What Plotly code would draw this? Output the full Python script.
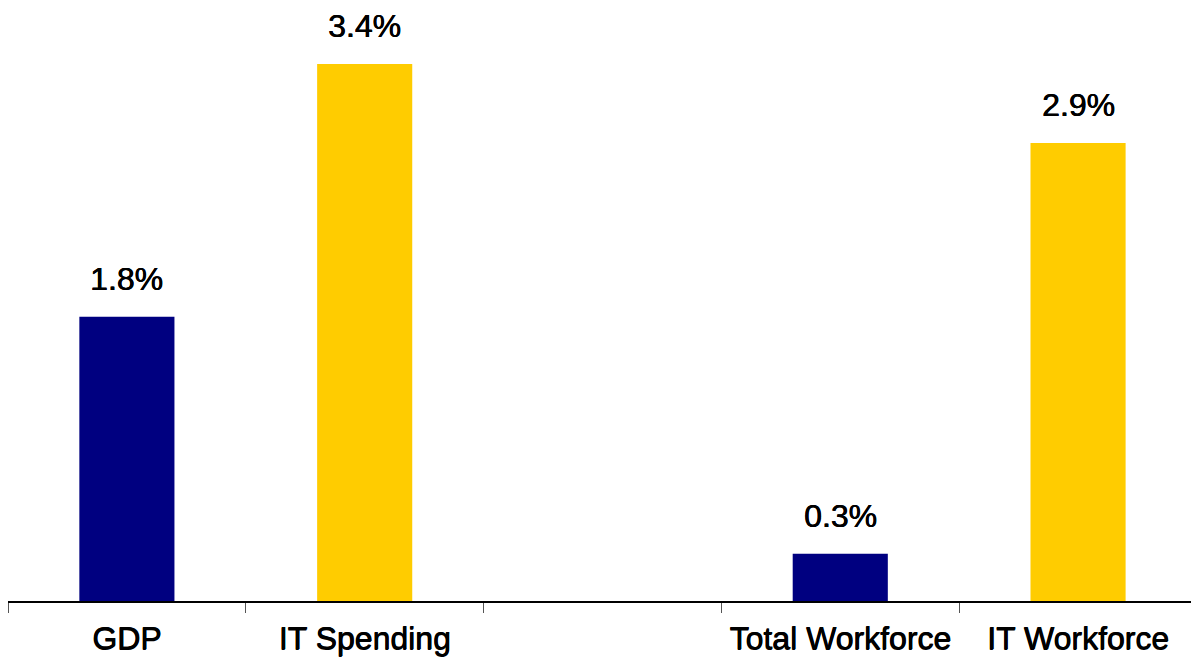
import plotly.graph_objects as go

# Average annual growth, two comparison groups separated by an empty slot
categories = ["GDP", "IT Spending", " ", "Total Workforce", "IT Workforce"]
growth = [1.8, 3.4, None, 0.3, 2.9]
bar_colors = ["#000080", "#FFCC00", "#FFFFFF", "#000080", "#FFCC00"]

FONT = "Liberation Sans, Arial, sans-serif"
LABEL_SIZE = 32
# slight stroke thickening for a heavier, Helvetica-like look
HEAVY = "0.6px 0px 0px #000000, 0px 0.4px 0px #000000"

label_font = dict(family=FONT, size=LABEL_SIZE, color="#000000", shadow=HEAVY)

fig = go.Figure(
    go.Bar(
        x=categories,
        y=growth,
        width=0.4,
        marker=dict(color=bar_colors, line=dict(width=0)),
        hoverinfo="skip",
    )
)

# Value labels sitting above each bar
for cat, val in zip(categories, growth):
    if val is None:
        continue
    fig.add_annotation(
        x=cat, y=val, text=f"{val:.1f}%",
        showarrow=False, yanchor="bottom", yshift=18,
        font=label_font,
    )

fig.update_layout(
    width=1191, height=658,
    margin=dict(l=8, r=0, t=0, b=57, autoexpand=False),
    paper_bgcolor="white", plot_bgcolor="white",
    showlegend=False,
    bargap=0.6,
)
fig.update_xaxes(
    type="category",
    range=[-0.5, 4.475],
    automargin=False,
    showline=True, linecolor="#000000", linewidth=1.5,
    ticks="outside", tickson="boundaries", ticklen=10, tickcolor="#555555", tickwidth=1,
    ticklabelstandoff=8,
    tickangle=0,
    tickfont=label_font,
    showgrid=False, zeroline=False,
)
fig.update_yaxes(
    range=[0, 3.806],
    automargin=False,
    visible=False, showgrid=False, zeroline=False,
)

fig.write_html("out.html")
